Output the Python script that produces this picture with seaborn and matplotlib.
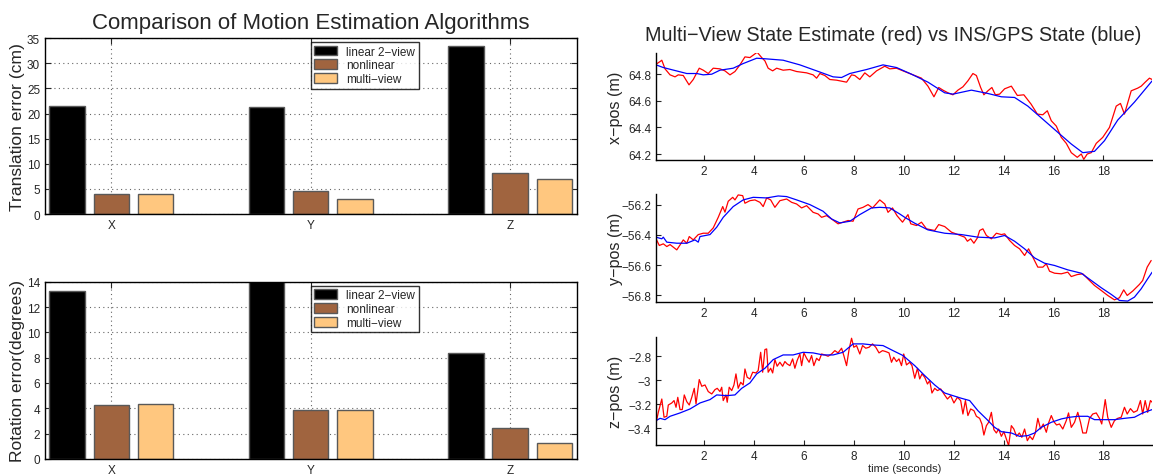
import matplotlib
matplotlib.use('Agg')
import matplotlib.pyplot as plt
import pandas as pd
import seaborn as sns
from matplotlib.ticker import FuncFormatter

# --- dados dos gráficos de barras ---
axis_names = ['X', 'Y', 'Z']
methods = ['linear 2\u2212view', 'nonlinear', 'multi\u2212view']
method_colors = ['#000000', '#A0643F', '#FFC77F']  # copper(3)

trans_linear = [21.6, 21.4, 33.4]
trans_nonlinear = [4.1, 4.55, 8.25]
trans_multi = [4.1, 3.1, 6.95]

rot_linear = [13.3, 14.6, 8.4]
rot_nonlinear = [4.27, 3.9, 2.46]
rot_multi = [4.33, 3.88, 1.27]

# --- x-pos ---
x_red_t = [0.08, 0.24, 0.31, 0.44, 0.64, 0.84, 0.97, 1.17, 1.40, 1.57,
           1.81, 1.97, 2.17, 2.37, 2.64, 2.84, 3.04, 3.24, 3.44, 3.64,
           3.84, 4.13, 4.31, 4.44, 4.57, 4.75, 4.91, 5.17, 5.44, 5.71,
           6.11, 6.37, 6.51, 6.64, 6.84, 7.04, 7.31, 7.71, 7.91, 8.04,
           8.24, 8.44, 8.64, 8.91, 9.24, 9.44, 9.71, 9.97, 10.17, 10.71,
           10.97, 11.21, 11.40, 11.57, 11.77, 11.97, 12.17, 12.37, 12.57, 12.77,
           12.91, 13.08, 13.21, 13.37, 13.53, 13.67, 13.84, 14.04, 14.31, 14.55,
           14.81, 15.10, 15.35, 15.57, 15.75, 15.91, 16.11, 16.31, 16.51, 16.71,
           16.95, 17.11, 17.21, 17.35, 17.51, 17.71, 17.97, 18.24, 18.51, 18.68,
           18.84, 19.11, 19.37, 19.51, 19.67, 19.84, 19.95]
x_red_v = [64.875, 64.895, 64.905, 64.84, 64.795, 64.78, 64.795, 64.79, 64.72, 64.76,
           64.845, 64.83, 64.805, 64.845, 64.84, 64.825, 64.795, 64.82, 64.87, 64.93,
           64.925, 64.965, 64.925, 64.90, 64.845, 64.825, 64.845, 64.83, 64.835, 64.82,
           64.81, 64.795, 64.77, 64.805, 64.79, 64.76, 64.755, 64.74, 64.795, 64.79,
           64.76, 64.81, 64.78, 64.825, 64.86, 64.84, 64.845, 64.825, 64.81, 64.77,
           64.71, 64.63, 64.70, 64.68, 64.66, 64.645, 64.68, 64.705, 64.75, 64.805,
           64.79, 64.70, 64.645, 64.675, 64.70, 64.645, 64.65, 64.69, 64.71, 64.64,
           64.645, 64.575, 64.50, 64.495, 64.525, 64.45, 64.41, 64.325, 64.28, 64.21,
           64.175, 64.20, 64.16, 64.20, 64.21, 64.28, 64.325, 64.40, 64.56, 64.58,
           64.50, 64.675, 64.695, 64.71, 64.74, 64.77, 64.76]
x_blue_t = [0.08, 0.37, 1.31, 1.71, 1.97, 2.31, 2.64, 3.17, 3.57, 4.11,
            4.51, 5.17, 5.84, 6.51, 7.17, 7.51, 7.84, 8.51, 9.17, 9.71,
            10.31, 10.97, 11.64, 11.97, 12.71, 13.37, 13.91, 14.44, 14.97, 15.64,
            16.31, 16.71, 17.17, 17.64, 18.04, 18.57, 19.24, 19.95]
x_blue_v = [64.87, 64.85, 64.805, 64.805, 64.795, 64.80, 64.83, 64.845, 64.88, 64.92,
            64.915, 64.905, 64.87, 64.825, 64.78, 64.775, 64.805, 64.835, 64.87, 64.85,
            64.80, 64.74, 64.66, 64.65, 64.68, 64.655, 64.63, 64.625, 64.56, 64.45,
            64.34, 64.275, 64.21, 64.22, 64.30, 64.455, 64.59, 64.75]

# --- y-pos ---
y_red_t = [0.08, 0.21, 0.37, 0.51, 0.64, 0.91, 1.07, 1.17, 1.31, 1.41,
           1.57, 1.77, 1.97, 2.17, 2.37, 2.57, 2.75, 2.84, 2.97, 3.15,
           3.24, 3.37, 3.55, 3.64, 3.84, 4.04, 4.24, 4.37, 4.51, 4.67,
           4.84, 5.04, 5.31, 5.51, 5.71, 5.91, 6.11, 6.37, 6.57, 6.71,
           6.91, 7.11, 7.37, 7.57, 7.77, 7.97, 8.17, 8.37, 8.57, 8.75,
           9.04, 9.24, 9.37, 9.55, 9.73, 9.95, 10.17, 10.28, 10.51, 10.71,
           10.91, 11.24, 11.40, 11.64, 11.91, 12.17, 12.44, 12.55, 12.68, 12.81,
           12.95, 13.04, 13.17, 13.31, 13.51, 13.71, 13.91, 14.04, 14.24, 14.44,
           14.64, 14.84, 15.00, 15.17, 15.37, 15.57, 15.71, 15.84, 16.04, 16.31,
           16.57, 16.71, 16.95, 17.17, 17.37, 17.64, 17.91, 18.17, 18.44, 18.64,
           18.81, 18.95, 19.17, 19.44, 19.57, 19.75, 19.91]
y_red_v = [-56.426, -56.47, -56.459, -56.477, -56.464, -56.499, -56.459, -56.433, -56.455, -56.411,
           -56.433, -56.398, -56.389, -56.389, -56.354, -56.284, -56.213, -56.25, -56.178, -56.152,
           -56.169, -56.136, -56.141, -56.191, -56.174, -56.169, -56.185, -56.213, -56.156, -56.169,
           -56.218, -56.174, -56.163, -56.185, -56.196, -56.222, -56.207, -56.251, -56.262, -56.284,
           -56.273, -56.295, -56.327, -56.316, -56.305, -56.31, -56.229, -56.218, -56.20, -56.222,
           -56.169, -56.196, -56.251, -56.222, -56.273, -56.316, -56.266, -56.327, -56.338, -56.316,
           -56.36, -56.371, -56.332, -56.345, -56.382, -56.398, -56.415, -56.442, -56.426, -56.455,
           -56.42, -56.371, -56.36, -56.404, -56.426, -56.389, -56.398, -56.393, -56.437, -56.47,
           -56.492, -56.536, -56.492, -56.547, -56.613, -56.613, -56.591, -56.64, -56.653, -56.657,
           -56.646, -56.675, -56.662, -56.657, -56.69, -56.734, -56.767, -56.80, -56.829, -56.815,
           -56.763, -56.80, -56.771, -56.727, -56.701, -56.613, -56.569]
y_blue_t = [0.08, 0.31, 0.37, 0.51, 0.91, 1.31, 1.64, 1.77, 1.84, 2.24,
            2.51, 2.77, 3.17, 3.57, 3.97, 4.51, 4.97, 5.31, 5.71, 6.24,
            6.77, 7.11, 7.44, 7.84, 8.24, 8.71, 9.04, 9.44, 9.84, 10.04,
            10.44, 10.97, 11.64, 12.31, 12.97, 13.64, 14.04, 14.44, 14.84, 15.24,
            15.64, 16.04, 16.57, 17.11, 17.51, 17.91, 18.31, 18.64, 18.97, 19.24,
            19.51, 19.77, 19.95]
y_blue_v = [-56.415, -56.426, -56.415, -56.448, -56.455, -56.455, -56.433, -56.448, -56.411, -56.398,
            -56.349, -56.284, -56.213, -56.169, -56.152, -56.156, -56.143, -56.147, -56.169, -56.20,
            -56.244, -56.295, -56.321, -56.31, -56.266, -56.222, -56.218, -56.222, -56.262, -56.284,
            -56.323, -56.367, -56.389, -56.398, -56.415, -56.42, -56.404, -56.442, -56.492, -56.552,
            -56.587, -56.602, -56.631, -56.653, -56.701, -56.749, -56.793, -56.833, -56.837, -56.811,
            -56.756, -56.69, -56.646]

# --- z-pos ---
z_red_t = [0.08, 0.17, 0.31, 0.40, 0.51, 0.57, 0.71, 0.80, 0.88, 0.95,
           1.04, 1.13, 1.21, 1.31, 1.41, 1.51, 1.61, 1.68, 1.81, 1.91,
           2.04, 2.17, 2.31, 2.44, 2.53, 2.64, 2.71, 2.77, 2.88, 2.93,
           3.01, 3.11, 3.20, 3.28, 3.37, 3.47, 3.57, 3.64, 3.73, 3.84,
           3.95, 4.08, 4.17, 4.27, 4.35, 4.44, 4.51, 4.57, 4.67, 4.75,
           4.84, 4.93, 5.04, 5.15, 5.24, 5.33, 5.44, 5.55, 5.64, 5.73,
           5.84, 5.91, 6.00, 6.11, 6.21, 6.31, 6.40, 6.51, 6.61, 6.71,
           6.84, 6.97, 7.11, 7.24, 7.37, 7.51, 7.60, 7.71, 7.81, 7.91,
           8.00, 8.11, 8.24, 8.35, 8.48, 8.61, 8.75, 8.88, 9.01, 9.15,
           9.28, 9.41, 9.51, 9.60, 9.71, 9.81, 9.91, 10.00, 10.11, 10.24,
           10.33, 10.44, 10.55, 10.64, 10.73, 10.84, 10.95, 11.04, 11.13, 11.24,
           11.35, 11.48, 11.61, 11.75, 11.88, 12.01, 12.15, 12.28, 12.37, 12.47,
           12.57, 12.68, 12.81, 12.91, 13.04, 13.13, 13.21, 13.31, 13.40, 13.51,
           13.61, 13.71, 13.80, 13.91, 14.01, 14.11, 14.20, 14.31, 14.41, 14.52,
           14.63, 14.73, 14.84, 14.95, 15.05, 15.16, 15.27, 15.37, 15.48, 15.59,
           15.71, 15.80, 15.91, 16.01, 16.12, 16.24, 16.37, 16.51, 16.60, 16.71,
           16.84, 16.97, 17.08, 17.17, 17.31, 17.44, 17.57, 17.71, 17.84, 17.93,
           18.07, 18.17, 18.31, 18.44, 18.57, 18.71, 18.84, 18.95, 19.08, 19.21,
           19.35, 19.48, 19.57, 19.67, 19.77, 19.88, 19.95]
z_red_v = [-3.356, -3.267, -3.156, -3.308, -3.300, -3.206, -3.189, -3.169, -3.225, -3.142,
           -3.244, -3.244, -3.122, -3.178, -3.206, -3.142, -3.067, -3.197, -2.994, -3.050,
           -3.039, -3.094, -3.114, -3.078, -3.067, -3.094, -3.058, -3.169, -3.122, -3.183,
           -3.058, -3.086, -3.039, -2.947, -3.067, -3.017, -3.039, -2.906, -2.975, -2.989,
           -2.933, -2.939, -2.919, -2.767, -2.933, -2.744, -2.739, -2.933, -2.900, -2.939,
           -2.828, -2.883, -2.850, -2.883, -2.844, -2.864, -2.878, -2.822, -2.900, -2.836,
           -2.781, -2.878, -2.772, -2.817, -2.850, -2.794, -2.878, -2.817, -2.836, -2.781,
           -2.789, -2.800, -2.781, -2.753, -2.772, -2.733, -2.794, -2.878, -2.744, -2.650,
           -2.725, -2.711, -2.781, -2.711, -2.733, -2.725, -2.697, -2.725, -2.772, -2.753,
           -2.761, -2.772, -2.850, -2.808, -2.844, -2.822, -2.878, -2.781, -2.872, -2.850,
           -2.878, -2.983, -2.900, -2.989, -2.947, -2.975, -3.031, -3.003, -3.106, -3.067,
           -3.086, -3.072, -3.114, -3.156, -3.128, -3.189, -3.142, -3.169, -3.281, -3.169,
           -3.294, -3.239, -3.253, -3.300, -3.317, -3.364, -3.456, -3.378, -3.350, -3.267,
           -3.411, -3.439, -3.406, -3.467, -3.428, -3.489, -3.544, -3.378, -3.406, -3.467,
           -3.439, -3.475, -3.406, -3.503, -3.467, -3.494, -3.439, -3.317, -3.406, -3.364,
           -3.433, -3.356, -3.294, -3.344, -3.372, -3.364, -3.406, -3.336, -3.272, -3.392,
           -3.350, -3.267, -3.350, -3.439, -3.439, -3.317, -3.281, -3.272, -3.317, -3.364,
           -3.161, -3.308, -3.392, -3.336, -3.317, -3.308, -3.225, -3.281, -3.236, -3.267,
           -3.253, -3.169, -3.281, -3.169, -3.267, -3.169, -3.183]
z_blue_t = [0.08, 0.24, 0.44, 0.64, 1.04, 1.44, 1.84, 2.24, 2.51, 2.91,
            3.24, 3.51, 3.84, 4.11, 4.44, 4.77, 5.17, 5.57, 5.97, 6.37,
            6.77, 7.17, 7.57, 7.97, 8.37, 8.77, 9.17, 9.57, 9.97, 10.44,
            10.84, 11.24, 11.64, 11.97, 12.31, 12.64, 12.97, 13.31, 13.64, 13.91,
            14.31, 14.64, 14.97, 15.24, 15.51, 15.91, 16.31, 16.64, 16.97, 17.37,
            17.64, 18.04, 18.44, 18.84, 19.24, 19.57, 19.95]
z_blue_v = [-3.336, -3.317, -3.328, -3.300, -3.272, -3.239, -3.189, -3.161, -3.122, -3.128,
            -3.122, -3.067, -3.022, -2.947, -2.900, -2.828, -2.789, -2.789, -2.767, -2.772,
            -2.789, -2.789, -2.767, -2.697, -2.697, -2.706, -2.711, -2.753, -2.794, -2.878,
            -2.961, -3.039, -3.106, -3.128, -3.150, -3.169, -3.253, -3.322, -3.392, -3.428,
            -3.439, -3.467, -3.461, -3.439, -3.392, -3.350, -3.322, -3.308, -3.300, -3.300,
            -3.328, -3.328, -3.328, -3.317, -3.308, -3.272, -3.244]

sns.set_style('white')
plt.rcParams['font.family'] = ['Liberation Sans', 'DejaVu Sans']

fig = plt.figure(figsize=(11.53, 4.77), dpi=100)


def bar_panel(rect, vals, ymax, yticks, ylabel, title=None):
    ax = fig.add_axes(rect)
    df = pd.DataFrame({
        'axis': axis_names * 3,
        'method': [m for m in methods for _ in axis_names],
        'value': vals[0] + vals[1] + vals[2],
    })
    sns.barplot(data=df, x='axis', y='value', hue='method', hue_order=methods,
                palette=method_colors, saturation=1, width=0.667, gap=0.2,
                errorbar=None, edgecolor='0.35', linewidth=1, ax=ax)
    ax.set_xlim(-0.333, 2.333)
    ax.set_ylim(0, ymax)
    ax.set_yticks(yticks)
    ax.set_axisbelow(True)
    ax.grid(True, linestyle=(0, (1, 3)), color='0.4', linewidth=0.8)
    for s in ax.spines.values():
        s.set_visible(True)
        s.set_color('black')
        s.set_linewidth(1)
    ax.tick_params(direction='in', top=True, right=True, length=4,
                   labelsize=8.5, bottom=True, left=True, width=0.8)
    ax.set_xlabel('')
    ax.set_ylabel(ylabel, fontsize=12.6)
    ax.yaxis.set_label_coords(-0.038, 0.5)
    leg = ax.legend(loc='upper left', bbox_to_anchor=(0.5, 0.978), fontsize=8.5,
                    frameon=True, fancybox=False, edgecolor='black',
                    handlelength=1.9, handleheight=0.9, borderpad=0.3,
                    labelspacing=0.15, handletextpad=0.8, borderaxespad=0)
    leg.get_frame().set_linewidth(1)
    if title:
        ax.set_title(title, fontsize=16, pad=7)
    return ax


bar_panel([0.039, 0.549, 0.461, 0.369],
          [trans_linear, trans_nonlinear, trans_multi],
          35, range(0, 36, 5), 'Translation error (cm)',
          'Comparison of Motion Estimation Algorithms')
bar_panel([0.039, 0.036, 0.461, 0.371],
          [rot_linear, rot_nonlinear, rot_multi],
          14, range(0, 15, 2), 'Rotation error(degrees)')


def line_panel(rect, red_t, red_v, blue_t, blue_v, ylim, yticks, ylabel):
    ax = fig.add_axes(rect)
    sns.lineplot(x=red_t, y=red_v, color='#FF0000', linewidth=0.9,
                 sort=False, estimator=None, ax=ax)
    sns.lineplot(x=blue_t, y=blue_v, color='#0000FF', linewidth=0.9,
                 sort=False, estimator=None, ax=ax)
    ax.set_xlim(0.08, 19.96)
    ax.set_ylim(*ylim)
    ax.set_xticks(range(2, 19, 2))
    ax.set_yticks(yticks)
    ax.yaxis.set_major_formatter(FuncFormatter(lambda v, p: ('%g' % round(v, 2)).replace('-', '\u2212')))
    ax.spines['top'].set_visible(False)
    ax.spines['right'].set_visible(False)
    for k in ('left', 'bottom'):
        ax.spines[k].set_color('black')
        ax.spines[k].set_linewidth(1)
    ax.tick_params(direction='in', length=3.5, width=0.8, labelsize=8.5,
                   bottom=True, left=True)
    ax.set_ylabel(ylabel, fontsize=11.6)
    ax.yaxis.set_label_coords(-0.066, 0.5)
    return ax


ax1 = line_panel([0.569, 0.6625, 0.4305, 0.2245], x_red_t, x_red_v, x_blue_t, x_blue_v,
                 (64.155, 64.96), [64.2, 64.4, 64.6, 64.8], 'x\u2212pos (m)')
ax1.set_title('Multi\u2212View State Estimate (red) vs INS/GPS State (blue)',
              fontsize=14.2, pad=9, x=0.477)
line_panel([0.569, 0.3642, 0.4305, 0.227], y_red_t, y_red_v, y_blue_t, y_blue_v,
           (-56.845, -56.13), [-56.8, -56.6, -56.4, -56.2], 'y\u2212pos (m)')
ax3 = line_panel([0.569, 0.065, 0.4305, 0.2258], z_red_t, z_red_v, z_blue_t, z_blue_v,
                 (-3.539, -2.642), [-3.4, -3.2, -3.0, -2.8], 'z\u2212pos (m)')
ax3.set_xlabel('time (seconds)', fontsize=8, labelpad=1)

fig.savefig('out.png', dpi=100)
